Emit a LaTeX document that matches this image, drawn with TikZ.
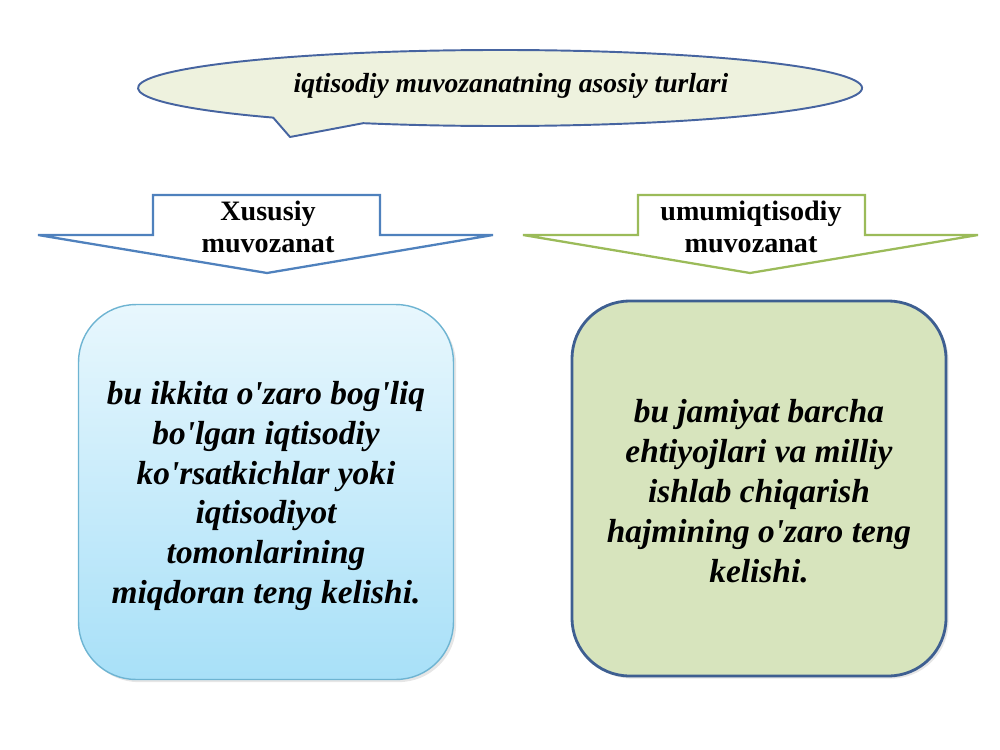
\documentclass[tikz,border=0pt]{standalone}
\usepackage{fontspec}
\setmainfont{Liberation Serif}[Ligatures=TeXOff]
\usetikzlibrary{shadows}
\definecolor{titlefill}{RGB}{238,242,222}
\definecolor{titledraw}{RGB}{70,100,160}
\definecolor{xusarrow}{RGB}{79,129,189}
\definecolor{umumarrow}{RGB}{155,187,89}
\definecolor{xustop}{RGB}{232,247,253}
\definecolor{xusbottom}{RGB}{168,224,248}
\definecolor{xusdraw}{RGB}{110,180,210}
\definecolor{umumfill}{RGB}{215,228,189}
\definecolor{umumdraw}{RGB}{62,95,145}

\begin{document}
\begin{tikzpicture}[x=0.02cm, y=-0.02cm,
  arrowlabel/.style={font=\fontsize{16}{18.1}\selectfont\bfseries, align=center},
  boxtext/.style={font=\fontsize{19}{22.7}\selectfont\bfseries\itshape, align=center},
  infobox/.style={rounded corners=1.15cm, minimum width=7.5cm, minimum height=7.5cm,
    drop shadow={opacity=0.2, shadow xshift=1.5pt, shadow yshift=-1.5pt}}]
\useasboundingbox (0,0) rectangle (1000,750);
% title callout
\coordinate (tip) at (290,137);
\draw[draw=titledraw, line width=1.1pt, fill=titlefill, line join=round]
  (500,88) ++(112.2:362 and 38) arc[start angle=112.2, end angle=-231.2, x radius=362, y radius=38]
  -- (tip) -- cycle;
\node[font=\fontsize{15.7}{18}\selectfont\bfseries\itshape] (title) at (511,86)
  {iqtisodiy muvozanatning asosiy turlari};
% arrows
\draw[draw=xusarrow, line width=1.3pt, fill=white] (153,195) -- (380,195) -- (380,235) -- (493,235)
  -- (267,273) -- (38,235) -- (153,235) -- cycle;
\node[arrowlabel] (xususiy) at (268,227) {Xususiy\\muvozanat};
\draw[draw=umumarrow, line width=1.3pt, fill=white] (638,195) -- (865,195) -- (865,235) -- (978,235)
  -- (750,273) -- (523,235) -- (638,235) -- cycle;
\node[arrowlabel] (umumiy) at (751,227) {umumiqtisodiy\\muvozanat};
% boxes
\node[infobox, draw=xusdraw, line width=0.8pt, top color=xustop, bottom color=xusbottom, boxtext]
  (xusbox) at (266,492) {};
\node[boxtext] (xustext) at (266,496) {bu ikkita o'zaro bog'liq\\bo'lgan iqtisodiy\\ko'rsatkichlar yoki\\iqtisodiyot\\tomonlarining\\miqdoran teng kelishi.};
\node[infobox, draw=umumdraw, line width=1.6pt, fill=umumfill, minimum width=7.48cm, boxtext]
  (umumbox) at (759,488.5) {};
\node[boxtext] (umumtext) at (759,491) {bu jamiyat barcha\\ehtiyojlari va milliy\\ishlab chiqarish\\hajmining o'zaro teng\\kelishi.};
\end{tikzpicture}
\end{document}
